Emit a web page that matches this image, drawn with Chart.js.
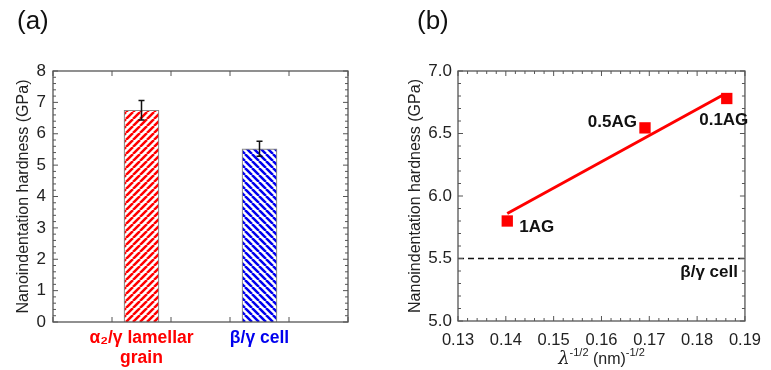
<!DOCTYPE html>
<html>
<head>
<meta charset="utf-8">
<script src="https://cdn.jsdelivr.net/npm/chart.js"></script>
<style>
  body { margin: 0; background: #fff; }
  #wrapA { position: absolute; left: 0; top: 0; width: 390px; height: 370px; }
  #wrapB { position: absolute; left: 390px; top: 0; width: 381px; height: 370px; }
</style>
</head>
<body>
<div id="wrapA"><canvas id="grafA" width="390" height="370"></canvas></div>
<div id="wrapB"><canvas id="grafB" width="381" height="370"></canvas></div>
<script>
// (a) 棒グラフのデータ
const categories = [['α₂/γ lamellar', 'grain'], ['β/γ cell']];
const catColors = ['#ff0000', '#0000ee'];
const barPos = [1.5, 3.5];
const hardness = [6.75, 5.52];
const hardnessErr = [0.31, 0.24];

// (b) 散布図のデータ
const samples = ['1AG', '0.5AG', '0.1AG'];
const lambdaInv = [0.1403, 0.1691, 0.1862];
const hardnessB = [5.80, 6.545, 6.78];
const fitX = [0.1403, 0.1855];
const fitY = [5.86, 6.81];
const cellLevel = 5.5;
const cellLabel = 'β/γ cell';

const FONT = '"Liberation Sans", Arial, sans-serif';

// 斜線パターン
function stripes(color, dir) {
  const s = 7;
  const c = document.createElement('canvas');
  c.width = s; c.height = s;
  const g = c.getContext('2d');
  g.fillStyle = '#fff'; g.fillRect(0, 0, s, s);
  g.strokeStyle = color; g.lineWidth = 2.5;
  g.beginPath();
  for (const k of [-s, 0, s]) {
    if (dir > 0) { g.moveTo(k, s); g.lineTo(k + s, 0); }
    else { g.moveTo(k, 0); g.lineTo(k + s, s); }
  }
  g.stroke();
  return g.createPattern(c, 'repeat');
}

// 内向きの目盛りと枠
const frameTicks = {
  id: 'frameTicks',
  afterDatasetsDraw(chart, args, o) {
    const { ctx, chartArea: a, scales: { x, y } } = chart;
    const marks = (sc, step, minor) => {
      const out = [];
      const n = Math.round((sc.max - sc.min) / step * minor);
      for (let i = 0; i <= n; i++) {
        out.push([sc.getPixelForValue(sc.min + i * step / minor), i % minor === 0]);
      }
      return out;
    };
    ctx.save();
    ctx.strokeStyle = '#555';
    ctx.lineWidth = 1;
    ctx.beginPath();
    for (const [p, big] of marks(x, o.xStep, o.xMinor)) {
      const l = big ? 5 : 3;
      ctx.moveTo(p, a.bottom); ctx.lineTo(p, a.bottom - l);
      ctx.moveTo(p, a.top); ctx.lineTo(p, a.top + l);
    }
    for (const [p, big] of marks(y, o.yStep, o.yMinor)) {
      const l = big ? 5 : 3;
      ctx.moveTo(a.left, p); ctx.lineTo(a.left + l, p);
      ctx.moveTo(a.right, p); ctx.lineTo(a.right - l, p);
    }
    ctx.stroke();
    ctx.lineWidth = 1.3;
    ctx.strokeRect(a.left, a.top, a.right - a.left, a.bottom - a.top);
    ctx.restore();
  }
};

// (a) (b) のラベル
const panelLabel = {
  id: 'panelLabel',
  afterDraw(chart, args, o) {
    const ctx = chart.ctx;
    ctx.save();
    ctx.fillStyle = '#111';
    ctx.font = '26px ' + FONT;
    ctx.textBaseline = 'alphabetic';
    ctx.fillText(o.text, o.x, o.y);
    ctx.restore();
  }
};

// 誤差棒
const errorBars = {
  id: 'errorBars',
  afterDatasetsDraw(chart) {
    const { ctx, scales: { x, y } } = chart;
    ctx.save();
    ctx.strokeStyle = '#111';
    ctx.lineWidth = 1.5;
    ctx.beginPath();
    hardness.forEach((v, i) => {
      const px = x.getPixelForValue(barPos[i]);
      const hi = y.getPixelForValue(v + hardnessErr[i]);
      const lo = y.getPixelForValue(v - hardnessErr[i]);
      ctx.moveTo(px, hi); ctx.lineTo(px, lo);
      ctx.moveTo(px - 3, hi); ctx.lineTo(px + 3, hi);
      ctx.moveTo(px - 3, lo); ctx.lineTo(px + 3, lo);
    });
    ctx.stroke();
    ctx.restore();
  }
};

// (b) 注釈と x 軸タイトル
const notesB = {
  id: 'notesB',
  afterDraw(chart) {
    const { ctx, chartArea: a, scales: { x, y } } = chart;
    ctx.save();
    ctx.fillStyle = '#111';
    ctx.font = 'bold 17px ' + FONT;
    ctx.textBaseline = 'middle';
    const offs = [[12, 6, 'left'], [-8, -6, 'right'], [-3, 22, 'center']];
    samples.forEach((s, i) => {
      ctx.textAlign = offs[i][2];
      ctx.fillText(s, x.getPixelForValue(lambdaInv[i]) + offs[i][0], y.getPixelForValue(hardnessB[i]) + offs[i][1]);
    });
    ctx.textAlign = 'right';
    ctx.fillText(cellLabel, a.right - 7, y.getPixelForValue(cellLevel) + 14);

    // λ^-1/2 (nm)^-1/2
    const parts = [
      ['italic 18px "DejaVu Serif", serif', 'λ', 0],
      ['11px ' + FONT, '-1/2', -8],
      ['16px ' + FONT, ' (nm)', 0],
      ['11px ' + FONT, '-1/2', -8]
    ];
    let w = 0;
    for (const p of parts) { ctx.font = p[0]; w += ctx.measureText(p[1]).width; }
    let cx = (a.left + a.right) / 2 - w / 2;
    ctx.textAlign = 'left';
    ctx.textBaseline = 'alphabetic';
    ctx.fillStyle = '#222';
    for (const p of parts) {
      ctx.font = p[0];
      ctx.fillText(p[1], cx, 364 + p[2]);
      cx += ctx.measureText(p[1]).width;
    }
    ctx.restore();
  }
};

new Chart(document.getElementById('grafA'), {
  type: 'bar',
  data: {
    datasets: [{
      data: barPos.map((p, i) => ({ x: p, y: hardness[i] })),
      backgroundColor: [stripes(catColors[0], 1), stripes(catColors[1], -1)],
      borderColor: '#888',
      borderWidth: 1.2,
      barThickness: 35
    }]
  },
  options: {
    responsive: false,
    animation: false,
    layout: { padding: { top: 71, right: 42, left: 0, bottom: 0 } },
    plugins: {
      legend: { display: false },
      tooltip: { enabled: false },
      frameTicks: { xStep: 1, xMinor: 1, yStep: 1, yMinor: 5 },
      panelLabel: { text: '(a)', x: 17, y: 29 }
    },
    scales: {
      x: {
        type: 'linear', min: 0, max: 5, offset: false,
        grid: { display: false, drawTicks: false }, border: { display: false },
        afterFit: s => { s.height = 48; },
        ticks: {
          stepSize: 0.5, autoSkip: false, maxRotation: 0, minRotation: 0, padding: 6,
          font: { family: FONT, size: 17.5, weight: 'bold', lineHeight: 1.15 },
          color: c => {
            const i = barPos.findIndex(p => Math.abs(p - c.tick.value) < 1e-6);
            return i >= 0 ? catColors[i] : '#000';
          },
          callback: v => {
            const i = barPos.findIndex(p => Math.abs(p - v) < 1e-6);
            return i >= 0 ? categories[i] : '';
          }
        }
      },
      y: {
        min: 0, max: 8,
        grid: { display: false, drawTicks: false }, border: { display: false },
        afterFit: s => { s.width = 53; },
        ticks: { stepSize: 1, padding: 7, color: '#222', font: { family: FONT, size: 17 } },
        title: {
          display: true, text: 'Nanoindentation hardness (GPa)', color: '#222',
          font: { family: FONT, size: 16 }, padding: { top: 14, bottom: 0 }
        }
      }
    }
  },
  plugins: [frameTicks, errorBars, panelLabel]
});

new Chart(document.getElementById('grafB'), {
  type: 'scatter',
  data: {
    datasets: [
      {
        data: lambdaInv.map((v, i) => ({ x: v, y: hardnessB[i] })),
        pointStyle: 'rect', pointRadius: 8,
        backgroundColor: '#ff0000', borderColor: '#ff0000', borderWidth: 0
      },
      {
        data: fitX.map((v, i) => ({ x: v, y: fitY[i] })),
        showLine: true, pointRadius: 0,
        borderColor: '#ff0000', borderWidth: 3
      },
      {
        data: [{ x: 0.13, y: cellLevel }, { x: 0.19, y: cellLevel }],
        showLine: true, pointRadius: 0,
        borderColor: '#111', borderWidth: 1.5, borderDash: [6, 4]
      }
    ]
  },
  options: {
    responsive: false,
    animation: false,
    layout: { padding: { top: 71, right: 18, left: 0, bottom: 0 } },
    plugins: {
      legend: { display: false },
      tooltip: { enabled: false },
      frameTicks: { xStep: 0.01, xMinor: 5, yStep: 0.5, yMinor: 5 },
      panelLabel: { text: '(b)', x: 27, y: 29 }
    },
    scales: {
      x: {
        type: 'linear', min: 0.13, max: 0.19,
        grid: { display: false, drawTicks: false }, border: { display: false },
        afterFit: s => { s.height = 49; },
        ticks: {
          stepSize: 0.01, padding: 10, maxRotation: 0, autoSkip: false, color: '#222',
          font: { family: FONT, size: 16.5 },
          callback: v => v.toFixed(2)
        }
      },
      y: {
        min: 5, max: 7,
        grid: { display: false, drawTicks: false }, border: { display: false },
        afterFit: s => { s.width = 68; },
        ticks: { stepSize: 0.5, padding: 6, color: '#222', font: { family: FONT, size: 17 }, callback: v => v.toFixed(1) },
        title: {
          display: true, text: 'Nanoindentation hardness (GPa)', color: '#222',
          font: { family: FONT, size: 16 }, padding: { top: 16, bottom: 0 }
        }
      }
    }
  },
  plugins: [frameTicks, notesB, panelLabel]
});
</script>
</body>
</html>
